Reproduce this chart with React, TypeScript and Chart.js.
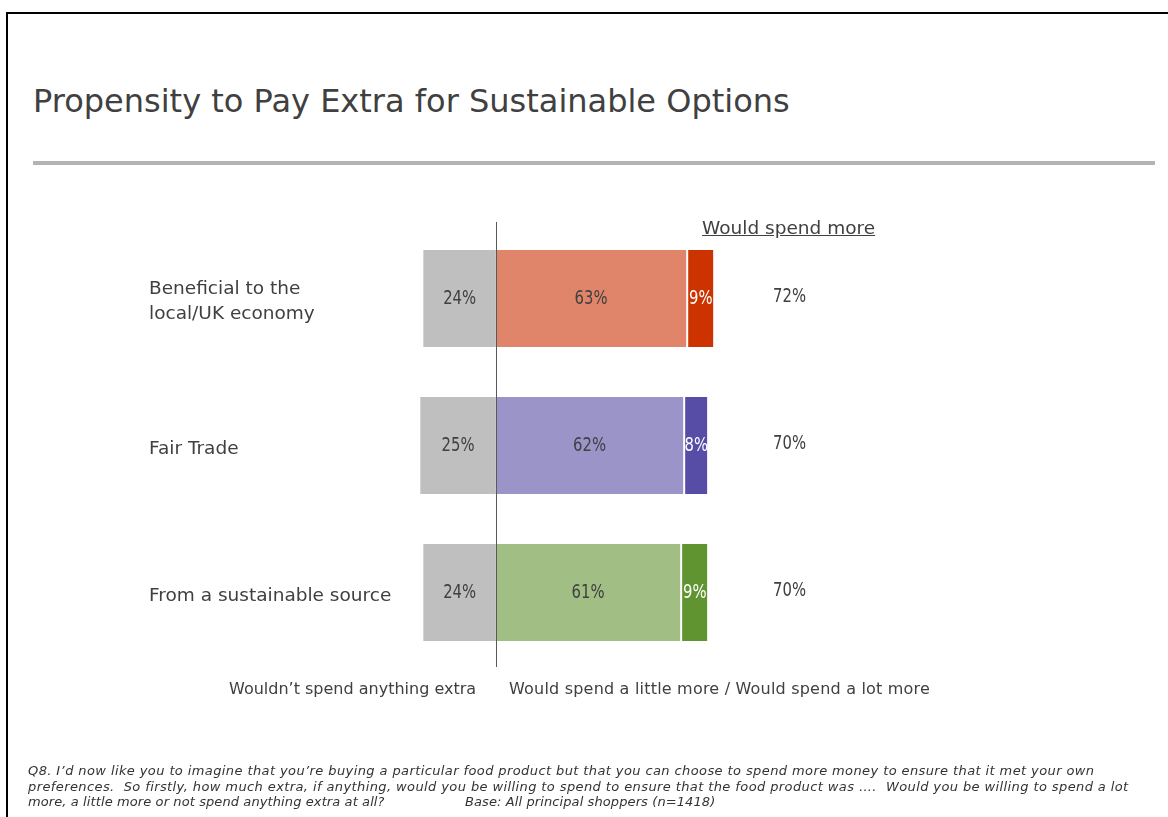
import React, { useEffect, useRef } from "react";
import { Chart, registerables } from "chart.js";

Chart.register(...registerables);

// ---- Data ----
const categories: string[][] = [
  ["Beneficial to the", "local/UK economy"],
  ["Fair Trade"],
  ["From a sustainable source"],
];
const wouldntSpend = [24, 25, 24];
const spendLittleMore = [63, 62, 61];
const spendLotMore = [9, 8, 9];
const wouldSpendMoreTotal = [72, 70, 70];

const greyColor = "#bfbfbf";
const littleColors = ["#e0856a", "#9b94c9", "#a1bf84"];
const lotColors = ["#cc3300", "#574ca6", "#5f9430"];

const TEXT = "#404040";
const SANS = "'DejaVu Sans', Verdana, sans-serif";

function narrowText(ctx: CanvasRenderingContext2D, text: string, x: number, y: number, sx: number) {
  ctx.save();
  ctx.translate(x, y);
  ctx.scale(sx, 1);
  ctx.fillText(text, 0, 0);
  ctx.restore();
}

const labelsPlugin = {
  id: "barLabels",
  afterDatasetsDraw(chart: any) {
    const ctx = chart.ctx as CanvasRenderingContext2D;
    const xScale = chart.scales.x;
    const yScale = chart.scales.y;
    const area = chart.chartArea;
    const x0 = Math.round(xScale.getPixelForValue(0)) + 0.5;
    ctx.save();
    // zero line
    ctx.strokeStyle = "#595959";
    ctx.lineWidth = 1;
    ctx.beginPath();
    ctx.moveTo(x0, area.top - 3);
    ctx.lineTo(x0, area.bottom + 1);
    ctx.stroke();

    // category labels
    ctx.textAlign = "left";
    ctx.textBaseline = "middle";
    ctx.fillStyle = TEXT;
    ctx.font = `18.5px ${SANS}`;
    const lineH = 25;
    categories.forEach((lines, j) => {
      const cy = yScale.getPixelForTick(j) + 3.5;
      lines.forEach((ln, k) => {
        ctx.fillText(ln, 149, cy + (k - (lines.length - 1) / 2) * lineH);
      });
    });

    // value labels
    ctx.textAlign = "center";
    ctx.font = `19px ${SANS}`;
    chart.data.datasets.forEach((ds: any, i: number) => {
      const meta = chart.getDatasetMeta(i);
      meta.data.forEach((bar: any, j: number) => {
        const { x, base, y } = bar.getProps(["x", "base", "y"], true);
        const v = Math.abs(ds.data[j]);
        ctx.fillStyle = i === 2 ? "#ffffff" : TEXT;
        narrowText(ctx, `${v}%`, (x + base) / 2 + (i === 2 ? 1 : 0), y + 1, 0.78);
        if (i === 2) {
          ctx.fillStyle = TEXT;
          narrowText(ctx, `${wouldSpendMoreTotal[j]}%`, x0 + 293, y - 1, 0.78);
        }
      });
    });
    ctx.restore();
  },
};

export default function App() {
  const canvasRef = useRef<HTMLCanvasElement | null>(null);

  useEffect(() => {
    if (!canvasRef.current) return;
    const chart = new Chart(canvasRef.current, {
      type: "bar",
      data: {
        labels: categories.map((c) => c.join(" ")),
        datasets: [
          {
            label: "Wouldn't spend anything extra",
            data: wouldntSpend.map((v) => -v),
            backgroundColor: greyColor,
            borderWidth: 0,
          },
          {
            label: "Would spend a little more",
            data: spendLittleMore,
            backgroundColor: littleColors,
            borderWidth: 0,
          },
          {
            label: "Would spend a lot more",
            data: spendLotMore,
            backgroundColor: lotColors,
            borderColor: "#ffffff",
            borderWidth: { left: 2, right: 0, top: 0, bottom: 0 },
            borderSkipped: false,
          },
        ],
      },
      options: {
        indexAxis: "y",
        responsive: false,
        animation: false,
        events: [],
        layout: { padding: { left: 375, right: 370, top: 225, bottom: 151 } },
        datasets: { bar: { categoryPercentage: 1, barPercentage: 0.66 } },
        scales: {
          x: { stacked: true, min: -40, max: 100, display: false },
          y: { stacked: true, display: false },
        },
        plugins: {
          legend: { display: false },
          tooltip: { enabled: false },
        },
      },
      plugins: [labelsPlugin],
    });
    return () => chart.destroy();
  }, []);

  const abs = (s: React.CSSProperties): React.CSSProperties => ({ position: "absolute", margin: 0, ...s });

  return (
    <div style={{ position: "fixed", left: 0, top: 0, width: 1168, height: 817, background: "#fff", overflow: "hidden" }}>
      <div style={abs({ left: 6, top: 12, right: -10, bottom: -10, borderTop: "2px solid #000", borderLeft: "2px solid #000" })} />
      <div style={abs({ left: 33, top: 82, fontFamily: SANS, fontSize: 32, color: TEXT, whiteSpace: "nowrap", lineHeight: "normal" })}>
        Propensity to Pay Extra for Sustainable Options
      </div>
      <div style={abs({ left: 33, top: 161, width: 1122, height: 4, background: "#b3b3b3" })} />
      <canvas ref={canvasRef} width={1168} height={817} style={abs({ left: 0, top: 0, width: 1168, height: 817 })} />
      <div style={abs({ left: 702, top: 217, fontFamily: SANS, fontSize: 18.5, color: TEXT, textDecoration: "underline", whiteSpace: "nowrap", lineHeight: "normal" })}>
        Would spend more
      </div>
      <div style={abs({ left: 229, top: 679, fontFamily: SANS, fontSize: 16, color: TEXT, whiteSpace: "nowrap", lineHeight: "normal" })}>
        Wouldn’t spend anything extra
      </div>
      <div style={abs({ left: 509, top: 679, fontFamily: SANS, fontSize: 16, letterSpacing: 0.2, color: TEXT, whiteSpace: "nowrap", lineHeight: "normal" })}>
        Would spend a little more / Would spend a lot more
      </div>
      <div style={abs({ left: 28, top: 763, fontFamily: SANS, fontStyle: "italic", fontSize: 13, color: "#333", whiteSpace: "nowrap", lineHeight: "15.5px" })}>
        <div style={{ letterSpacing: 0.4 }}>Q8. I’d now like you to imagine that you’re buying a particular food product but that you can choose to spend more money to ensure that it met your own</div>
        <div style={{ letterSpacing: 0.4 }}>preferences.&nbsp; So firstly, how much extra, if anything, would you be willing to spend to ensure that the food product was ….&nbsp; Would you be willing to spend a lot</div>
        <div style={{ position: "relative", letterSpacing: 0.1 }}>
          more, a little more or not spend anything extra at all?
          <span style={{ position: "absolute", left: 437, top: 0 }}>Base: All principal shoppers (n=1418)</span>
        </div>
      </div>
    </div>
  );
}
